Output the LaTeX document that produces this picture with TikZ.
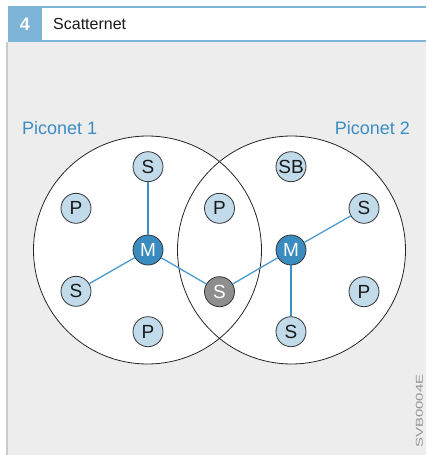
\documentclass[tikz,border=0pt]{standalone}
\usepackage{fontspec}
\usepackage{graphicx}
\setmainfont{Liberation Sans}
\definecolor{headblue}{HTML}{7FB4D9}
\definecolor{panelbg}{HTML}{ECEDEC}
\definecolor{stripgrey}{HTML}{C9CACB}
\definecolor{textblue}{HTML}{3C8DC4}
\definecolor{linkblue}{HTML}{4A9ACB}
\definecolor{vlinkblue}{HTML}{3A8FC8}
\definecolor{devfill}{HTML}{C2DBEA}
\definecolor{masterfill}{HTML}{3A8BC0}
\definecolor{bridgefill}{HTML}{8E8E8E}
\definecolor{codegrey}{HTML}{939495}
\tikzset{
  netcircle/.style={circle, draw=black!85, line width=0.8pt, minimum size=228pt, inner sep=0pt},
  dev/.style={circle, draw=black!80, line width=0.8pt, fill=devfill, minimum size=30pt, inner sep=0pt,
              font=\fontsize{19}{19}\selectfont, text=black!90},
  master/.style={dev, fill=masterfill, text=white},
  bridge/.style={dev, fill=bridgefill, text=white},
  link/.style={draw=linkblue, line width=1.3pt},
  vlink/.style={draw=vlinkblue, line width=1.6pt},
  netlabel/.style={text=textblue, font=\fontsize{18}{18}\selectfont, inner sep=0pt}
}
\begin{document}
\begin{tikzpicture}[x=1pt,y=-1pt]
\useasboundingbox (0,0) rectangle (426,455);
\fill[white] (0,0) rectangle (426,455);
% panel
\fill[panelbg] (8,42) rectangle (426,455);
\fill[stripgrey] (6,42) rectangle (8,455);
% header
\fill[headblue] (8,5.5) rectangle (426,7.5);
\fill[headblue] (8,39.5) rectangle (426,42);
\fill[headblue] (8,5.5) rectangle (42,42);
\node[text=white, font=\fontsize{18}{18}\selectfont\bfseries, inner sep=0pt] (num) at (25,24) {4};
\node[anchor=west, font=\fontsize{16}{16}\selectfont, inner sep=0pt, text=black!90] (title) at (53,24) {Scatternet};
% labels
\node[netlabel, anchor=west] (lab1) at (22,128) {Piconet 1};
\node[netlabel, anchor=east] (lab2) at (410,128) {Piconet 2};
% circle fills
\fill[white] (147.5,250) circle[radius=114];
\fill[white] (291.5,250) circle[radius=114];
\node[netcircle] (pico1) at (147.5,250) {};
\node[netcircle] (pico2) at (291.5,250) {};
% piconet 1
\node[master] (m1) at (148,250) {M};
\node[dev] (s1t) at (148,166.7) {S};
\node[dev] (p1l) at (76,208.3) {P};
\node[dev] (s1l) at (76,291.3) {S};
\node[dev] (p1b) at (148,331.7) {P};
% shared
\node[dev] (pmid) at (219.5,208.3) {P};
\node[bridge] (sb) at (219.5,291.7) {S};
% piconet 2
\node[master] (m2) at (291,250) {M};
\node[dev] (sb2) at (291,166.7) {SB};
\node[dev] (s2r) at (364,208.3) {S};
\node[dev] (p2r) at (364,291.7) {P};
\node[dev] (s2b) at (291,331.7) {S};
% links
\draw[vlink] (m1) -- (s1t);
\draw[link] (m1) -- (s1l);
\draw[link] (m1) -- (sb);
\draw[link] (m2) -- (sb);
\draw[link] (m2) -- (s2r);
\draw[vlink] (m2) -- (s2b);
% code
\node[rotate=90, text=codegrey, font=\fontsize{10}{10}\selectfont, inner sep=0pt] (code) at (419.5,411) {\scalebox{1.5}[1]{SVB0004E}};
\end{tikzpicture}
\end{document}
